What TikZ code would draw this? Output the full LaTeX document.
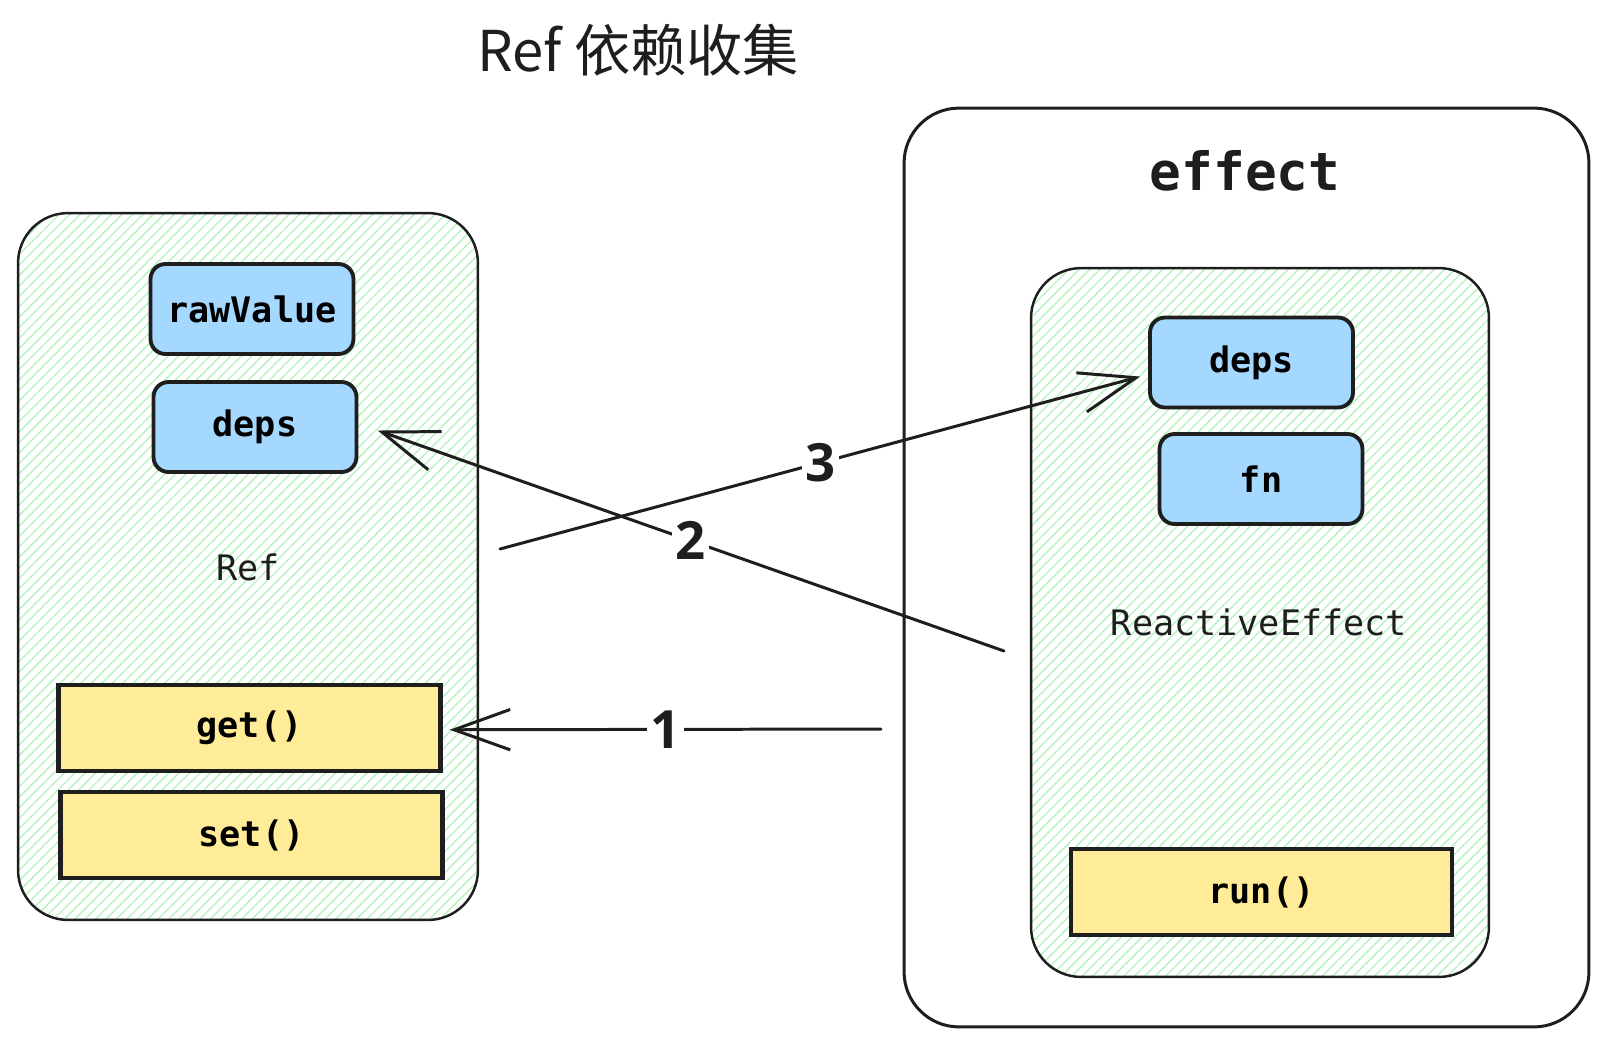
\documentclass[tikz,border=0pt]{standalone}
\usepackage{fontspec}
\setmainfont{DejaVu Sans}
\setmonofont{DejaVu Sans Mono}
\newfontfamily\cjkfont{Noto Sans CJK SC}
\newfontfamily\numfont{Open Sans}
\usetikzlibrary{arrows.meta,patterns.meta}
\definecolor{ink}{HTML}{1E1E1E}
\definecolor{hatch}{HTML}{B2F2BB}
\definecolor{fieldblue}{HTML}{A5D8FF}
\definecolor{methodyellow}{HTML}{FFEC99}

\begin{document}
\begin{tikzpicture}[x=0.02cm,y=-0.02cm,
                outer/.style={rectangle,rounded corners=1.1cm,draw=ink,line width=1.7pt,
                inner sep=0pt,minimum width=13.7cm,minimum height=18.38cm},
                frame/.style={rectangle,rounded corners=1cm,draw=ink,line width=1.4pt,
                pattern={Lines[angle=45,distance=4.2pt,line width=0.75pt]},pattern color=hatch,
                inner sep=0pt},
                field/.style={rectangle,rounded corners=0.3cm,draw=ink,fill=fieldblue,
                line width=2.2pt,inner sep=0pt,minimum width=4.06cm,minimum height=1.8cm,
                font=\fontsize{20pt}{24pt}\selectfont\ttfamily\bfseries},
                method/.style={rectangle,draw=ink,fill=methodyellow,line width=2.4pt,
                inner sep=0pt,minimum width=7.64cm,minimum height=1.72cm,
                font=\fontsize{20pt}{24pt}\selectfont\ttfamily\bfseries},
                lbl/.style={text=ink,font=\fontsize{20pt}{24pt}\selectfont\ttfamily},
                numlbl/.style={fill=white,text=ink,inner sep=2pt,
                font=\fontsize{30pt}{34pt}\selectfont\numfont\bfseries},
                arr/.style={draw=ink,line width=1.7pt,line cap=round,
                -{Straight Barb[length=32pt,width=23pt]}}]
                \useasboundingbox (0,0) rectangle (1607,1046);
                % title
                \node (title) at (638,50) [text=ink,font=\fontsize{32pt}{38pt}\selectfont\cjkfont] {Ref 依赖收集};
                % Ref object
                \node (refbox) at (248,566.5) [frame,minimum width=9.2cm,minimum height=14.14cm] {};
                \node (rawValue) at (252,309) [field] {rawValue};
                \node (depsL) at (255,427) [field] {deps};
                \node (reflbl) at (248,567) [lbl] {Ref};
                \node (get) at (249.5,728) [method] {get()};
                \node (set) at (251.5,835) [method] {set()};
                % effect
                \node (effect) at (1246.5,567.5) [outer] {};
                \node (effectlbl) at (1245,171) [text=ink,font=\fontsize{30pt}{36pt}\selectfont\ttfamily\bfseries] {effect};
                \node (reactive) at (1260,622.5) [frame,minimum width=9.16cm,minimum height=14.18cm] {};
                \node (depsR) at (1251.5,362.5) [field] {deps};
                \node (fn) at (1261,479) [field] {fn};
                \node (relbl) at (1259,622) [lbl] {ReactiveEffect};
                \node (run) at (1261.5,892) [method,minimum width=7.62cm] {run()};
                % arrows
                \coordinate (s1) at (881,729);
                \coordinate (s2) at (1004,651);
                \coordinate (s3) at (500,549);
                \draw (s1) edge[arr] node[numlbl] {1} ([xshift=4pt,yshift=-1pt]get.east);
                \draw (s2) edge[arr] node[numlbl] {2} ([xshift=11pt,yshift=-2pt]depsL.east);
                \draw (s3) edge[arr] node[numlbl] {3} ([xshift=-4.5pt,yshift=-8pt]depsR.west);
            \end{tikzpicture}
\end{document}
